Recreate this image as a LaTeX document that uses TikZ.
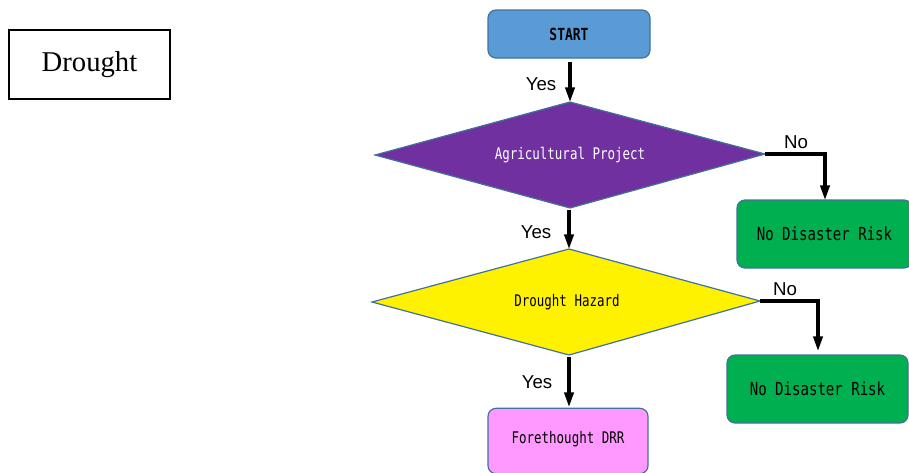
\documentclass[tikz,border=0pt]{standalone}
\usepackage{fontspec}
\setmainfont{Liberation Serif}
\newfontfamily\gothic[FakeStretch=0.78]{DejaVu Sans Mono}
\newfontfamily\labelfont{Liberation Sans}
\usetikzlibrary{arrows.meta}
\definecolor{startblue}{HTML}{5B9BD5}
\definecolor{edgeblue}{HTML}{41719C}
\definecolor{agripurple}{HTML}{7030A0}
\definecolor{riskgreen}{HTML}{00B050}
\definecolor{drrpink}{HTML}{FF99FF}
\tikzset{
  flowbox/.style={draw=edgeblue, line width=0.9pt, rounded corners=6pt, inner sep=0pt},
  decision/.style={draw=edgeblue, line width=0.9pt},
  flowarrow/.style={line width=2.3pt, -{Triangle[length=11pt,width=7pt]}},
  answer/.style={font=\labelfont\fontsize{14}{14}\selectfont, inner sep=0pt},
}
\begin{document}
\begin{tikzpicture}[x=0.75pt,y=-0.75pt]
\useasboundingbox (0,0) rectangle (909,472);

% title box
\node[draw=black, line width=1.4pt, minimum width=120.75pt, minimum height=51.75pt, inner sep=0pt,
      font=\fontsize{21.5}{21.5}\selectfont] (title) at (89.5,64.5) {Drought};

% start
\node[flowbox, fill=startblue, minimum width=121.5pt, minimum height=36pt,
      font=\gothic\bfseries\fontsize{12.5}{12.5}\selectfont] (start) at (569,34) {START};

% first decision
\coordinate (d1n) at (570,102);
\coordinate (d1e) at (765,154);
\coordinate (d1s) at (570,208);
\coordinate (d1w) at (375,155);
\filldraw[decision, fill=agripurple] (d1n) -- (d1e) -- (d1s) -- (d1w) -- cycle;
\node[text=white, font=\gothic\fontsize{12}{12}\selectfont] (agri) at (570,155) {Agricultural Project};

% second decision
\coordinate (d2n) at (569,249);
\coordinate (d2e) at (760,301);
\coordinate (d2s) at (569,355);
\coordinate (d2w) at (372,302);
\filldraw[decision, fill=yellow] (d2n) -- (d2e) -- (d2s) -- (d2w) -- cycle;
\node[font=\gothic\fontsize{12}{12}\selectfont] (hazard) at (567,302) {Drought Hazard};

% outcomes
\node[flowbox, fill=riskgreen, minimum width=131.25pt, minimum height=51pt,
      font=\gothic\fontsize{13.5}{13.5}\selectfont] (risk1) at (824.5,234) {No Disaster Risk};
\node[flowbox, fill=riskgreen, minimum width=135.75pt, minimum height=51pt,
      font=\gothic\fontsize{13.5}{13.5}\selectfont] (risk2) at (817.5,389) {No Disaster Risk};
\node[flowbox, fill=drrpink, minimum width=120pt, minimum height=49pt,
      font=\gothic\fontsize{12}{12}\selectfont] (drr) at (568,441) {\raisebox{5pt}{Forethought DRR}};

% connectors
\coordinate (a1) at (570,62);
\draw[flowarrow] (a1) -- (d1n);
\coordinate (a2) at (569,210);
\draw[flowarrow] (a2) -- (d2n);
\coordinate (a3) at (569,357);
\coordinate (a3e) at (569,407);
\draw[flowarrow] (a3) -- (a3e);
\coordinate (n1) at (825,200);
\draw[flowarrow] (d1e) -| (n1);
\coordinate (n2) at (818,351);
\draw[flowarrow] (d2e) -| (n2);

% branch labels
\node[answer] (yes1) at (541,84) {Yes};
\node[answer] (yes2) at (536,232) {Yes};
\node[answer] (yes3) at (537,382) {Yes};
\node[answer] (no1) at (796,142) {No};
\node[answer] (no2) at (785,289) {No};
\end{tikzpicture}
\end{document}
